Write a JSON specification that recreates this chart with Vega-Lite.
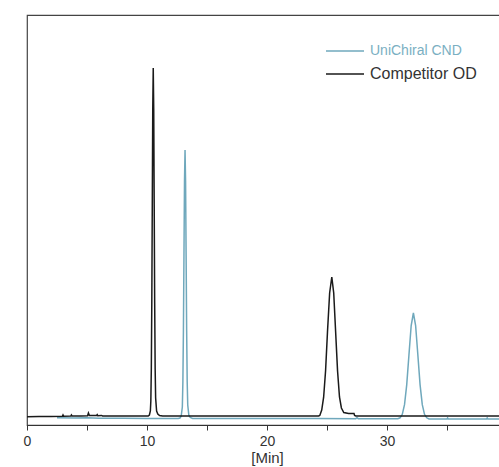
{
  "$schema": "https://vega.github.io/schema/vega-lite/v6.json",
  "width": 480,
  "height": 410,
  "autosize": {"type": "none"},
  "padding": {"left": 27, "top": 15, "right": 0, "bottom": 42},
  "background": "white",
  "config": {
    "font": "Liberation Sans",
    "view": {"stroke": "#444", "strokeWidth": 1.2},
    "legend": {
      "title": null,
      "orient": "none",
      "legendX": 298,
      "symbolType": "stroke",
      "symbolSize": 1444,
      "symbolStrokeWidth": 1.3,
      "labelOffset": 5,
      "labelFont": "Liberation Sans"
    }
  },
  "datasets": {
    "cnd": [
      {"t": 2.5, "v": 7.2, "s": "UniChiral CND"},
      {"t": 4, "v": 7.0, "s": "UniChiral CND"},
      {"t": 5, "v": 7.2, "s": "UniChiral CND"},
      {"t": 6, "v": 6.8, "s": "UniChiral CND"},
      {"t": 8, "v": 6.8, "s": "UniChiral CND"},
      {"t": 10, "v": 6.6, "s": "UniChiral CND"},
      {"t": 12.6, "v": 6.5, "s": "UniChiral CND"},
      {"t": 12.75, "v": 7, "s": "UniChiral CND"},
      {"t": 12.85, "v": 9, "s": "UniChiral CND"},
      {"t": 12.945, "v": 18, "s": "UniChiral CND"},
      {"t": 12.99, "v": 43, "s": "UniChiral CND"},
      {"t": 13.035, "v": 94, "s": "UniChiral CND"},
      {"t": 13.08, "v": 169, "s": "UniChiral CND"},
      {"t": 13.125, "v": 243.5, "s": "UniChiral CND"},
      {"t": 13.17, "v": 275, "s": "UniChiral CND"},
      {"t": 13.215, "v": 243.5, "s": "UniChiral CND"},
      {"t": 13.26, "v": 169, "s": "UniChiral CND"},
      {"t": 13.305, "v": 94, "s": "UniChiral CND"},
      {"t": 13.35, "v": 43, "s": "UniChiral CND"},
      {"t": 13.395, "v": 20, "s": "UniChiral CND"},
      {"t": 13.485, "v": 10, "s": "UniChiral CND"},
      {"t": 13.6, "v": 7.5, "s": "UniChiral CND"},
      {"t": 13.8, "v": 6.6, "s": "UniChiral CND"},
      {"t": 16, "v": 6.4, "s": "UniChiral CND"},
      {"t": 20, "v": 6.4, "s": "UniChiral CND"},
      {"t": 24, "v": 6.5, "s": "UniChiral CND"},
      {"t": 27.4, "v": 6.3, "s": "UniChiral CND"},
      {"t": 27.5, "v": 7.3, "s": "UniChiral CND"},
      {"t": 27.6, "v": 6.3, "s": "UniChiral CND"},
      {"t": 30.9, "v": 6.3, "s": "UniChiral CND"},
      {"t": 31.09, "v": 7.2, "s": "UniChiral CND"},
      {"t": 31.275, "v": 10.7, "s": "UniChiral CND"},
      {"t": 31.46, "v": 20.3, "s": "UniChiral CND"},
      {"t": 31.645, "v": 40.4, "s": "UniChiral CND"},
      {"t": 31.83, "v": 70.3, "s": "UniChiral CND"},
      {"t": 32.015, "v": 99.5, "s": "UniChiral CND"},
      {"t": 32.2, "v": 112, "s": "UniChiral CND"},
      {"t": 32.385, "v": 99.5, "s": "UniChiral CND"},
      {"t": 32.57, "v": 70.3, "s": "UniChiral CND"},
      {"t": 32.755, "v": 40.4, "s": "UniChiral CND"},
      {"t": 32.94, "v": 20.3, "s": "UniChiral CND"},
      {"t": 33.125, "v": 10.7, "s": "UniChiral CND"},
      {"t": 33.31, "v": 7.2, "s": "UniChiral CND"},
      {"t": 33.5, "v": 6, "s": "UniChiral CND"},
      {"t": 35, "v": 6, "s": "UniChiral CND"},
      {"t": 35.05, "v": 7, "s": "UniChiral CND"},
      {"t": 35.1, "v": 6, "s": "UniChiral CND"},
      {"t": 38.3, "v": 6, "s": "UniChiral CND"},
      {"t": 38.35, "v": 7, "s": "UniChiral CND"},
      {"t": 38.4, "v": 6, "s": "UniChiral CND"},
      {"t": 40, "v": 6, "s": "UniChiral CND"}
    ],
    "od": [
      {"t": 0, "v": 8.3, "s": "Competitor OD"},
      {"t": 1, "v": 8.4, "s": "Competitor OD"},
      {"t": 2, "v": 8.6, "s": "Competitor OD"},
      {"t": 2.95, "v": 8.7, "s": "Competitor OD"},
      {"t": 3.0, "v": 10, "s": "Competitor OD"},
      {"t": 3.05, "v": 8.8, "s": "Competitor OD"},
      {"t": 3.65, "v": 8.9, "s": "Competitor OD"},
      {"t": 3.7, "v": 10, "s": "Competitor OD"},
      {"t": 3.75, "v": 9, "s": "Competitor OD"},
      {"t": 4.5, "v": 9, "s": "Competitor OD"},
      {"t": 5.05, "v": 9.2, "s": "Competitor OD"},
      {"t": 5.12, "v": 12, "s": "Competitor OD"},
      {"t": 5.2, "v": 9.5, "s": "Competitor OD"},
      {"t": 5.8, "v": 9.5, "s": "Competitor OD"},
      {"t": 5.85, "v": 10.3, "s": "Competitor OD"},
      {"t": 5.9, "v": 9.3, "s": "Competitor OD"},
      {"t": 6.2, "v": 9.6, "s": "Competitor OD"},
      {"t": 6.3, "v": 9, "s": "Competitor OD"},
      {"t": 7, "v": 9, "s": "Competitor OD"},
      {"t": 8, "v": 9.1, "s": "Competitor OD"},
      {"t": 9, "v": 9, "s": "Competitor OD"},
      {"t": 10.1, "v": 9, "s": "Competitor OD"},
      {"t": 10.2, "v": 10, "s": "Competitor OD"},
      {"t": 10.28, "v": 14, "s": "Competitor OD"},
      {"t": 10.32, "v": 24, "s": "Competitor OD"},
      {"t": 10.36, "v": 56, "s": "Competitor OD"},
      {"t": 10.4, "v": 122, "s": "Competitor OD"},
      {"t": 10.44, "v": 220, "s": "Competitor OD"},
      {"t": 10.48, "v": 316, "s": "Competitor OD"},
      {"t": 10.52, "v": 357, "s": "Competitor OD"},
      {"t": 10.56, "v": 316, "s": "Competitor OD"},
      {"t": 10.6, "v": 220, "s": "Competitor OD"},
      {"t": 10.64, "v": 122, "s": "Competitor OD"},
      {"t": 10.68, "v": 56, "s": "Competitor OD"},
      {"t": 10.72, "v": 27, "s": "Competitor OD"},
      {"t": 10.8, "v": 14, "s": "Competitor OD"},
      {"t": 10.9, "v": 11, "s": "Competitor OD"},
      {"t": 11.05, "v": 9.5, "s": "Competitor OD"},
      {"t": 11.3, "v": 9, "s": "Competitor OD"},
      {"t": 15, "v": 9, "s": "Competitor OD"},
      {"t": 20, "v": 9, "s": "Competitor OD"},
      {"t": 24.3, "v": 9, "s": "Competitor OD"},
      {"t": 24.4, "v": 9.5, "s": "Competitor OD"},
      {"t": 24.56, "v": 15, "s": "Competitor OD"},
      {"t": 24.72, "v": 27.8, "s": "Competitor OD"},
      {"t": 24.88, "v": 54, "s": "Competitor OD"},
      {"t": 25.04, "v": 93, "s": "Competitor OD"},
      {"t": 25.22, "v": 132, "s": "Competitor OD"},
      {"t": 25.4, "v": 148, "s": "Competitor OD"},
      {"t": 25.56, "v": 132, "s": "Competitor OD"},
      {"t": 25.72, "v": 93, "s": "Competitor OD"},
      {"t": 25.88, "v": 54, "s": "Competitor OD"},
      {"t": 26.04, "v": 28, "s": "Competitor OD"},
      {"t": 26.2, "v": 17, "s": "Competitor OD"},
      {"t": 26.4, "v": 12.5, "s": "Competitor OD"},
      {"t": 26.8, "v": 11.5, "s": "Competitor OD"},
      {"t": 27.25, "v": 11.5, "s": "Competitor OD"},
      {"t": 27.3, "v": 9.5, "s": "Competitor OD"},
      {"t": 27.4, "v": 9, "s": "Competitor OD"},
      {"t": 30, "v": 9, "s": "Competitor OD"},
      {"t": 35, "v": 9, "s": "Competitor OD"},
      {"t": 40, "v": 9, "s": "Competitor OD"}
    ]
  },
  "encoding": {
    "x": {
      "field": "t",
      "type": "quantitative",
      "scale": {"domain": [0, 40], "nice": false},
      "axis": {
        "title": "[Min]",
        "values": [0, 5, 10, 15, 20, 25, 30, 35, 40],
        "labelExpr": "datum.value % 10 === 0 && datum.value < 40 ? datum.label : ''",
        "grid": false,
        "domainColor": "#333",
        "domainWidth": 1.2,
        "tickColor": "#333",
        "tickWidth": 1,
        "tickSize": 5,
        "labelFont": "Liberation Sans",
        "labelFontSize": 14,
        "labelColor": "#333",
        "labelPadding": 4,
        "labelFlush": false,
        "titleFont": "Liberation Sans",
        "titleFontSize": 15,
        "titleFontWeight": "normal",
        "titleColor": "#333",
        "titlePadding": 2
      }
    },
    "y": {
      "field": "v",
      "type": "quantitative",
      "scale": {"domain": [0, 410], "nice": false},
      "axis": null
    }
  },
  "layer": [
    {
      "data": {"name": "cnd"},
      "mark": {"type": "line", "strokeWidth": 1.5, "clip": true},
      "encoding": {
        "color": {
          "field": "s",
          "type": "nominal",
          "scale": {"domain": ["UniChiral CND"], "range": ["#6fa8bc"]},
          "legend": {"legendY": 16, "labelFontSize": 14, "labelColor": "#7aafc2"}
        }
      }
    },
    {
      "data": {"name": "od"},
      "mark": {"type": "line", "strokeWidth": 1.5, "clip": true},
      "encoding": {
        "color": {
          "field": "s",
          "type": "nominal",
          "scale": {"domain": ["Competitor OD"], "range": ["#1a1a1a"]},
          "legend": {"legendY": 39, "labelFontSize": 16, "labelColor": "#333333"}
        }
      }
    }
  ],
  "resolve": {"scale": {"color": "independent"}}
}
